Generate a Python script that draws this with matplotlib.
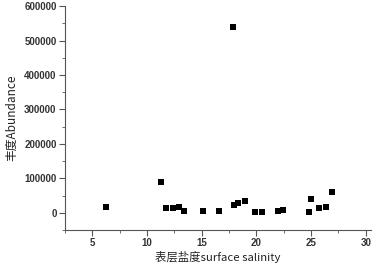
import matplotlib
matplotlib.use("Agg")
import matplotlib.pyplot as plt
from matplotlib.ticker import MultipleLocator

plt.rcParams['font.family'] = ['Liberation Sans', 'Noto Sans CJK SC', 'DejaVu Sans']
plt.rcParams['font.weight'] = 'bold'

# surface salinity vs abundance
salinity = [6.25, 11.25, 11.7, 12.4, 12.9, 13.35, 15.15, 16.6, 17.9, 18.0, 18.3,
            18.95, 19.9, 20.5, 22.0, 22.45, 24.8, 25.0, 25.75, 26.4, 26.9]
abundance = [16500, 91000, 14500, 14500, 17000, 4000, 4000, 4000, 538000, 22000, 30000,
             34000, 2000, 2000, 4000, 8000, 3000, 40000, 14500, 17000, 61000]

fig = plt.figure(figsize=(3.73, 2.66), dpi=100)
ax = fig.add_axes([0.174, 0.135, 0.821, 0.842])

ax.scatter(salinity, abundance, marker='s', s=22, color='black', linewidths=0)

ax.set_xlim(2.5, 30.5)
ax.set_ylim(-50000, 600000)
ax.xaxis.set_major_locator(MultipleLocator(5))
ax.xaxis.set_minor_locator(MultipleLocator(2.5))
ax.yaxis.set_major_locator(MultipleLocator(100000))
ax.yaxis.set_minor_locator(MultipleLocator(50000))

for s in ['top', 'right']:
    ax.spines[s].set_visible(False)
for s in ['left', 'bottom']:
    ax.spines[s].set_color('#555555')
    ax.spines[s].set_linewidth(0.8)

ax.tick_params(which='major', length=4, width=0.8, color='#555555', labelsize=7,
               labelcolor='#333333', pad=2)
ax.tick_params(which='minor', length=2, width=0.6, color='#555555')

ax.set_xlabel('表层盐度surface salinity', fontsize=8.2, color='#222222', labelpad=2,
              fontweight='normal', family=['Noto Sans CJK SC', 'DejaVu Sans'])
ax.set_ylabel('丰度Abundance', fontsize=8.5, color='#222222', labelpad=4,
              fontweight='normal', family=['Noto Sans CJK SC', 'DejaVu Sans'])

fig.savefig('out.png', dpi=100)
